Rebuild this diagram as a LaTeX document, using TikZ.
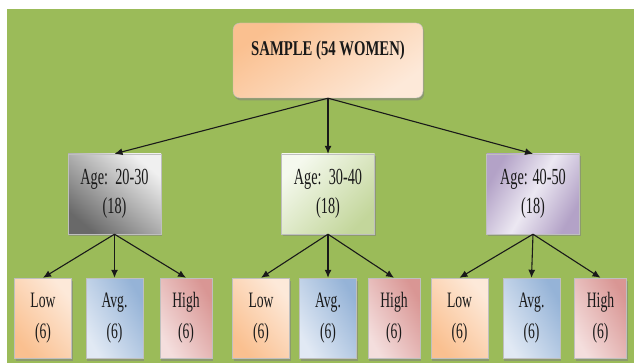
\documentclass[tikz,border=0pt]{standalone}
\usepackage{fontspec}
\setmainfont{Liberation Serif}[FakeStretch=0.62]
\newfontfamily\headfont{Liberation Serif}[FakeStretch=0.7]
\usepackage{tikz}
\usetikzlibrary{positioning, arrows.meta, shadows}

\definecolor{bggreen}{RGB}{155,187,89}
\definecolor{peachdk}{RGB}{250,192,144}
\definecolor{peachlt}{RGB}{253,233,217}
\definecolor{graydk}{RGB}{105,105,105}
\definecolor{graylt}{RGB}{240,240,240}
\definecolor{greendk}{RGB}{195,214,155}
\definecolor{greenlt}{RGB}{245,249,238}
\definecolor{lavdk}{RGB}{179,162,199}
\definecolor{lavlt}{RGB}{236,232,242}
\definecolor{bluedk}{RGB}{149,179,215}
\definecolor{bluelt}{RGB}{225,233,244}
\definecolor{pinkdk}{RGB}{217,150,148}
\definecolor{pinklt}{RGB}{244,222,221}

\tikzset{
    box/.style={rectangle, draw=black!25, align=center, inner sep=0pt,
        text=black!90, drop shadow={shadow xshift=1.2pt, shadow yshift=-2.5pt, opacity=0.55}},
    topbox/.style={box, rounded corners=7pt, minimum width=190pt, minimum height=75pt,
        text depth=25pt, font=\headfont\bfseries\fontsize{21}{25}\selectfont},
    agebox/.style={box, minimum width=93pt, minimum height=80pt,
        font=\fontsize{23}{29}\selectfont},
    groupbox/.style={box, minimum width=57pt, minimum height=80pt,
        font=\fontsize{22}{31}\selectfont},
    lowbox/.style={groupbox, top color=peachlt, bottom color=peachdk, shading angle=-50},
    avgbox/.style={groupbox, top color=bluedk, bottom color=bluelt, shading angle=-60},
    highbox/.style={groupbox, minimum width=52pt, top color=pinkdk, bottom color=pinklt, shading angle=-60},
    conn/.style={-{Latex[length=8pt,width=7pt]}, line width=1.1pt, black!90}
}

\begin{document}
\begin{tikzpicture}[x=1pt, y=-1pt]

\fill[white] (0,0) rectangle (634,363);
\useasboundingbox (0,0) rectangle (634,363);
\fill[bggreen] (7,9) rectangle (634,363);

\node (low1) [lowbox] at (43,318) {Low\\(6)};
\node (avg1) [avgbox, right of=low1, node distance=71.5pt] {Avg.\\(6)};
\node (high1)[highbox, right of=avg1, node distance=71.5pt] {High\\(6)};

\node (low2) [lowbox] at (261,318) {Low\\(6)};
\node (avg2) [avgbox, right of=low2, node distance=67pt] {Avg.\\(6)};
\node (high2)[highbox, right of=avg2, node distance=66pt] {High\\(6)};

\node (low3) [lowbox] at (459.5,318) {Low\\(6)};
\node (avg3) [avgbox, right of=low3, node distance=72pt] {Avg.\\(6)};
\node (high3)[highbox, right of=avg3, node distance=69pt] {High\\(6)};

\node (age1) [agebox, top color=graylt, bottom color=graydk, shading angle=-40,
    above of=avg1, node distance=124pt] {Age:\ \ 20-30\\(18)};
\node (age2) [agebox, top color=greenlt, bottom color=greendk, shading angle=45,
    above of=avg2, node distance=124pt] {Age:\ \ 30-40\\(18)};
\node (age3) [agebox, left color=lavdk, right color=lavdk, middle color=lavlt, shading angle=60,
    above of=avg3, node distance=124pt, xshift=1.5pt] {Age: 40-50\\(18)};

\node (sample) [topbox, top color=peachdk, bottom color=peachlt, shading angle=35,
    above of=age2, node distance=133.5pt] {SAMPLE (54 WOMEN)};

\draw [conn] (sample.south) -- (age1.north);
\draw [conn] (sample.south) -- (age2.north);
\draw [conn] (sample.south) -- (age3.north);

\foreach \g in {1,2,3} {
    \draw [conn] (age\g.south) -- (low\g.north);
    \draw [conn] (age\g.south) -- (avg\g.north);
    \draw [conn] (age\g.south) -- (high\g.north);
}

\end{tikzpicture}
\end{document}
